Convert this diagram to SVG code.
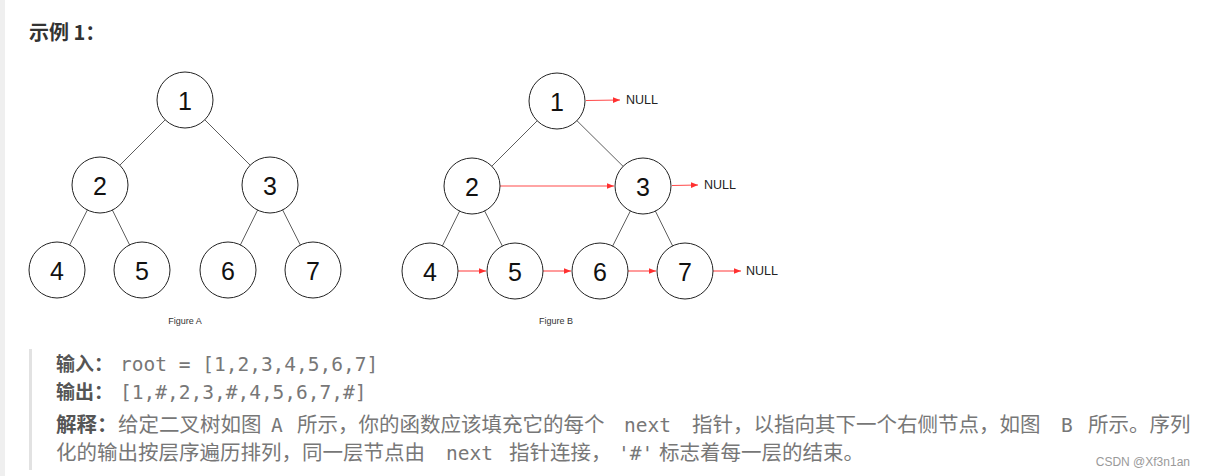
<svg xmlns="http://www.w3.org/2000/svg" width="1206" height="476" viewBox="0 0 1206 476">
<style>
.node circle{fill:#fff;stroke:#222;stroke-width:1}
.node text{font-family:"Liberation Sans",Arial,sans-serif;font-size:25px;fill:#111;text-anchor:middle;dominant-baseline:central}
.edge{stroke:#333;stroke-width:0.8}
.next{stroke:#ff4a4a;stroke-width:1.1;marker-end:url(#ah)}
.null{font-family:"Liberation Sans",Arial,sans-serif;font-size:12.5px;fill:#222;dominant-baseline:central}
.cap{font-family:"Liberation Sans",Arial,sans-serif;font-size:9px;fill:#333;text-anchor:middle}
.cjk{font-family:"Noto Sans CJK SC","Noto Sans",sans-serif;font-size:20.5px;fill:#777}
.b{font-weight:bold;fill:#555}
.s{font-size:19px}
.mono{font-family:"DejaVu Sans Mono","Liberation Mono",monospace;font-size:19.5px;fill:#777}
</style>
<defs>
<marker id="ah" viewBox="0 0 10 10" refX="10" refY="5" markerWidth="7" markerHeight="7" markerUnits="userSpaceOnUse" orient="auto">
<path d="M0,1 L10,5 L0,9 Z" fill="#ff3030"/>
</marker>
</defs>
<rect x="0" y="0" width="1206" height="476" fill="#fff"/>
<rect x="0" y="0" width="5" height="476" fill="#efefef"/>
<text x="29" y="40" style="font-family:'Noto Sans CJK SC','Noto Sans',sans-serif;font-size:20px;font-weight:bold;fill:#333">示例 1：</text>

<g id="connectors">
<line class="edge" x1="185" y1="100" x2="100" y2="185"/>
<line class="edge" x1="185" y1="100" x2="270" y2="185"/>
<line class="edge" x1="100" y1="185" x2="57" y2="270"/>
<line class="edge" x1="100" y1="185" x2="142" y2="270"/>
<line class="edge" x1="270" y1="185" x2="228" y2="270"/>
<line class="edge" x1="270" y1="185" x2="313" y2="270"/>
<line class="edge" x1="557" y1="101" x2="472" y2="186"/>
<line class="edge" x1="557" y1="101" x2="643" y2="186"/>
<line class="edge" x1="472" y1="186" x2="430" y2="271"/>
<line class="edge" x1="472" y1="186" x2="515" y2="271"/>
<line class="edge" x1="643" y1="186" x2="600" y2="271"/>
<line class="edge" x1="643" y1="186" x2="685" y2="271"/>
<line class="next" x1="586" y1="100.5" x2="620" y2="100"/>
<line class="next" x1="500" y1="186" x2="614" y2="186"/>
<line class="next" x1="672" y1="185.5" x2="698" y2="185"/>
<line class="next" x1="458" y1="271" x2="486" y2="271"/>
<line class="next" x1="543" y1="271" x2="571" y2="271"/>
<line class="next" x1="628" y1="271" x2="656" y2="271"/>
<line class="next" x1="713" y1="271" x2="741" y2="271"/>
</g>

<g id="a1" class="node"><circle cx="185" cy="100" r="28"/><text x="185" y="101">1</text></g>
<g id="a2" class="node"><circle cx="100" cy="185" r="28"/><text x="100" y="186">2</text></g>
<g id="a3" class="node"><circle cx="270" cy="185" r="28"/><text x="270" y="186">3</text></g>
<g id="a4" class="node"><circle cx="57" cy="270" r="28"/><text x="57" y="271">4</text></g>
<g id="a5" class="node"><circle cx="142" cy="270" r="28"/><text x="142" y="271">5</text></g>
<g id="a6" class="node"><circle cx="228" cy="270" r="28"/><text x="228" y="271">6</text></g>
<g id="a7" class="node"><circle cx="313" cy="270" r="28"/><text x="313" y="271">7</text></g>
<text class="cap" x="185" y="324">Figure A</text>

<g id="b1" class="node"><circle cx="557" cy="101" r="28"/><text x="557" y="102">1</text></g>
<g id="b2" class="node"><circle cx="472" cy="186" r="28"/><text x="472" y="187">2</text></g>
<g id="b3" class="node"><circle cx="643" cy="186" r="28"/><text x="643" y="187">3</text></g>
<g id="b4" class="node"><circle cx="430" cy="271" r="28"/><text x="430" y="272">4</text></g>
<g id="b5" class="node"><circle cx="515" cy="271" r="28"/><text x="515" y="272">5</text></g>
<g id="b6" class="node"><circle cx="600" cy="271" r="28"/><text x="600" y="272">6</text></g>
<g id="b7" class="node"><circle cx="685" cy="271" r="28"/><text x="685" y="272">7</text></g>
<g id="nulls">
<text class="null" x="626" y="100">NULL</text>
<text class="null" x="704" y="185">NULL</text>
<text class="null" x="746" y="271">NULL</text>
</g>
<text class="cap" x="556" y="324">Figure B</text>

<rect x="29" y="349" width="3" height="121" fill="#e2e2e2"/>
<text y="371"><tspan class="cjk b s" x="56">输入：</tspan><tspan class="mono" x="120">root = [1,2,3,4,5,6,7]</tspan></text>
<text y="399"><tspan class="cjk b s" x="56">输出：</tspan><tspan class="mono" x="120">[1,#,2,3,#,4,5,6,7,#]</tspan></text>
<text y="432"><tspan class="cjk b" x="56">解释：</tspan><tspan class="cjk" x="118">给定二叉树如图</tspan><tspan class="mono" x="271">A</tspan><tspan class="cjk" x="297">所示，你的函数应该填充它的每个</tspan><tspan class="mono" x="624">next</tspan><tspan class="cjk" x="692">指针，以指向其下一个右侧节点，如图</tspan><tspan class="mono" x="1061">B</tspan><tspan class="cjk" x="1088">所示。序列</tspan></text>
<text y="460"><tspan class="cjk" x="56">化的输出按层序遍历排列，同一层节点由</tspan><tspan class="mono" x="446">next</tspan><tspan class="cjk" x="509">指针连接，</tspan><tspan class="mono" x="618">'#'</tspan><tspan class="cjk" x="659">标志着每一层的结束。</tspan></text>
<text x="1190" y="466" style="font-family:'Liberation Sans',Arial,sans-serif;font-size:12px;fill:#9a9a9a;text-anchor:end">CSDN @Xf3n1an</text>
</svg>
